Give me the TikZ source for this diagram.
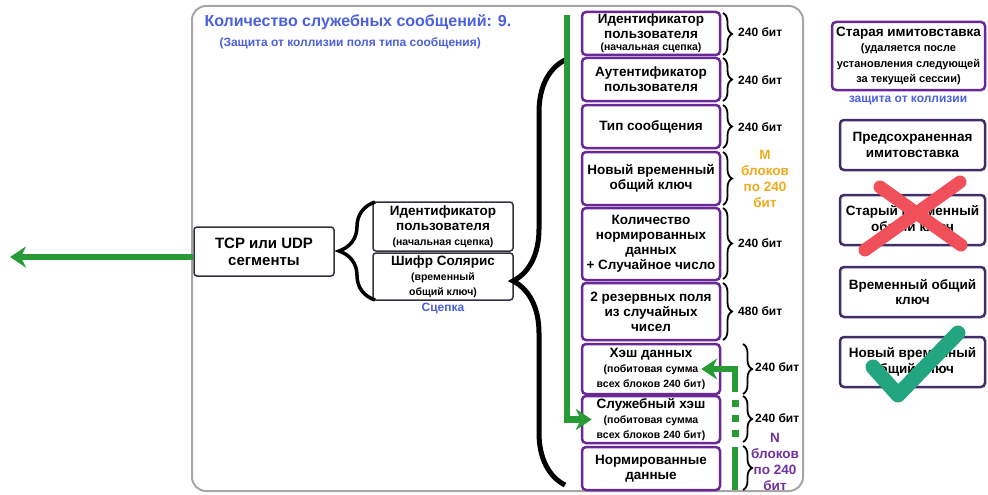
\documentclass[tikz,border=0pt]{standalone}
\usepackage{fontspec}
\setmainfont{Liberation Sans}
\usetikzlibrary{arrows.meta,decorations.pathreplacing}

\definecolor{titleblue}{RGB}{75,95,225}
\definecolor{fieldviolet}{RGB}{105,40,150}
\definecolor{sideviolet}{RGB}{65,45,105}
\definecolor{segedge}{RGB}{50,50,60}
\definecolor{pathgreen}{RGB}{40,155,55}
\definecolor{countorange}{RGB}{240,170,30}
\definecolor{countviolet}{RGB}{112,48,160}
\definecolor{crossred}{RGB}{240,80,90}
\definecolor{checkteal}{RGB}{35,165,130}

\newcommand{\smalltxt}[1]{{\fontsize{10.5}{11.5}\selectfont #1}}

\begin{document}
\begin{tikzpicture}[x=1pt,y=-1pt,
  fld/.style={draw=fieldviolet,line width=2.5pt,rounded corners=4pt,fill=white,align=center,
    font=\bfseries\fontsize{13.5}{15}\selectfont,minimum width=138pt,inner sep=0pt},
  seg/.style={draw=segedge,line width=1.5pt,rounded corners=3pt,fill=white,align=center,
    font=\bfseries\fontsize{13.5}{15}\selectfont,minimum width=140pt,inner sep=0pt},
  side/.style={draw=sideviolet,line width=2.5pt,rounded corners=4pt,fill=white,align=center,
    font=\bfseries\fontsize{13.5}{15.5}\selectfont,minimum width=145pt,minimum height=50pt,inner sep=0pt},
  bits/.style={anchor=west,font=\bfseries\fontsize{12}{14}\selectfont,inner sep=1pt},
  sbrace/.style={decorate,decoration={brace,amplitude=9pt},line width=1.8pt},
  garrow/.style={pathgreen,line width=6.5pt,-{Stealth[length=16pt,width=21pt]}},
  bluetxt/.style={titleblue,font=\bfseries\fontsize{12}{14}\selectfont}]
\useasboundingbox (0,0) rectangle (988,495);
\draw[gray!70,line width=2pt,rounded corners=14pt] (192,6) rectangle (803,491);
\node[titleblue,anchor=west,font=\bfseries\fontsize{16}{18}\selectfont] (title) at (201,22) {Количество служебных сообщений: 9.};
\node[bluetxt,anchor=west] (subtitle) at (216,43) {(Защита от коллизии поля типа сообщения)};

% segment and the concatenation
\node[seg,minimum height=49pt,font=\bfseries\fontsize{15}{17}\selectfont] (tcp) at (264,251.5) {TCP или UDP\\сегменты};
\node[seg,minimum height=49pt] (userid) at (443,226.5) {Идентификатор\\пользователя\\\smalltxt{(начальная сцепка)}};
\node[seg,minimum height=47pt] (cipher) at (443,276.5) {Шифр Солярис\\\smalltxt{(временный}\\\smalltxt{общий ключ)}};
\node[bluetxt] (chain) at (443,309) {Сцепка};
\draw[decorate,decoration={brace,amplitude=36pt},line width=3.5pt] (375,300) -- (375,202);
\coordinate (out) at (10,257);
\draw[garrow] (tcp.west |- out) -- (out);

% service message fields
\node[fld,minimum height=43pt] (f1) at (651,33.5) {Идентификатор\\пользователя\\[-3pt]\smalltxt{(начальная сцепка)}};
\node[fld,minimum height=43pt] (f2) at (651,79.5) {Аутентификатор\\пользователя};
\node[fld,minimum height=43pt] (f3) at (651,126.5) {Тип сообщения};
\node[fld,minimum height=53pt] (f4) at (651,178.5) {Новый временный\\общий ключ};
\node[fld,minimum height=72pt] (f5) at (651,244) {Количество\\нормированных\\данных\\+ Случайное число};
\node[fld,minimum height=57pt] (f6) at (651,311.5) {2 резервных поля\\из случайных\\чисел};
\node[fld,minimum height=50pt] (datahash) at (651,369) {Хэш данных\\\smalltxt{(побитовая сумма}\\\smalltxt{всех блоков 240 бит)}};
\node[fld,minimum height=47pt] (srvhash) at (651,419.5) {Служебный хэш\\\smalltxt{(побитовая сумма}\\\smalltxt{всех блоков 240 бит)}};
\node[fld,minimum height=43pt] (f9) at (651,468.5) {Нормированные\\данные};
\draw[decorate,decoration={brace,amplitude=52pt,aspect=0.48},line width=5pt] (565,485) -- (565,60);

% sizes
\foreach \t/\b in {13/55,58/101,105/148,152/205,208/279,283/340}
  \draw[sbrace] (723,\t) -- (723,\b);
\foreach \t/\b in {344/394,396/442,446/490}
  \draw[sbrace] (743,\t) -- (743,\b);
\node[bits] (b1) at (737,32) {240 бит};
\node[bits] (b2) at (737,80) {240 бит};
\node[bits] (b3) at (737,127) {240 бит};
\node[countorange,align=center,font=\bfseries\fontsize{13.5}{16}\selectfont] (mblocks) at (765,179) {M\\блоков\\по 240\\бит};
\node[bits] (b5) at (737,243) {240 бит};
\node[bits] (b6) at (737,311) {480 бит};
\node[bits] (b7) at (754,367) {240 бит};
\node[bits] (b8) at (754,418) {240 бит};
\node[countviolet,align=center,font=\bfseries\fontsize{13.5}{16}\selectfont] (nblocks) at (775,462) {N\\блоков\\по 240\\бит};

% green paths
\coordinate (gtop) at (567,15);
\draw[garrow] (gtop) |- ([xshift=11pt]srvhash.west);
\coordinate (hsrc) at (735,392);
\draw[garrow] (hsrc) |- ([xshift=-20pt]datahash.east);
\draw[pathgreen,line width=6.5pt] (735,490) -- (735,447);
\foreach \y in {403,418,433} \fill[pathgreen] (731.5,\y-3.5) rectangle (738.5,\y+3.5);

% key store
\node[side,draw=fieldviolet,minimum width=153pt,minimum height=68pt] (oldmac) at (908.5,56) {Старая имитовставка\\\fontsize{11}{13}\selectfont(удаляется после\\\fontsize{11}{13}\selectfont установления следующей\\\fontsize{11}{13}\selectfont за текущей сессии)};
\node[bluetxt] (collision) at (908,100) {защита от коллизии};
\node[side] (premac) at (912.5,145) {Предсохраненная\\имитовставка};
\node[side] (oldkey) at (912.5,220) {Старый временный\\общий ключ};
\node[side] (curkey) at (912.5,292) {Временный общий\\ключ};
\node[side] (newkey) at (912.5,362) {Новый временный\\общий ключ};
\draw[crossred,line width=13pt,line cap=round] (880,187) -- (961,245);
\draw[crossred,line width=13pt,line cap=round] (960,182) -- (865,250);
\draw[checkteal,line width=15pt,line cap=round,line join=round] (873,367) -- (898,395) -- (958,333);
\end{tikzpicture}
\end{document}
